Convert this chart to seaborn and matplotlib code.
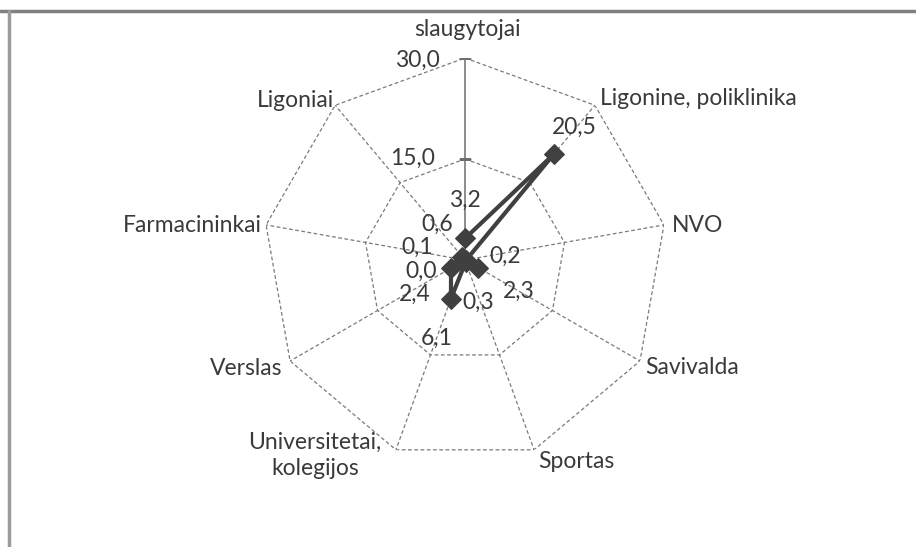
import numpy as np
import matplotlib
matplotlib.use("Agg")
import matplotlib.pyplot as plt
from matplotlib.lines import Line2D
import seaborn as sns

# duomenys
categories = ["slaugytojai", "Ligonine, poliklinika", "NVO", "Savivalda", "Sportas",
              "Universitetai,\nkolegijos", "Verslas", "Farmacininkai", "Ligoniai"]
values = [3.2, 20.5, 0.2, 2.3, 0.3, 6.1, 2.4, 0.1, 0.6]
value_labels = ["3,2", "20,5", "0,2", "2,3", "0,3", "6,1", "2,4", "0,1", "0,6"]
ring_values = [15, 30]
ring_labels = ["15,0", "30,0"]
r_max = 30

sns.set_theme(style="white")
plt.rcParams['font.family'] = ['Lato', 'DejaVu Sans']

TXT = '#3a3a3a'
GRID = '#7a7a7a'
LINE = '#404040'

W, H = 916, 547
fig = plt.figure(figsize=(W / 100, H / 100), dpi=100)
cx, cy, R = 465, 260, 202
ax = fig.add_axes([(cx - R) / W, (H - cy - R) / H, 2 * R / W, 2 * R / H], projection='polar')
ax.set_theta_zero_location('N')
ax.set_theta_direction(-1)
ax.set_ylim(0, r_max)
ax.grid(False)
ax.spines['polar'].set_visible(False)
ax.set_xticks([])
ax.set_yticks([])
ax.set_facecolor('none')

n = len(categories)
theta = np.arange(n) * 2 * np.pi / n
theta_c = np.append(theta, theta[0])

# tinklelis (daugiakampiai + spinduliai)
for r in ring_values:
    ax.plot(theta_c, [r] * (n + 1), color=GRID, lw=0.9, ls=(0, (3, 2)), zorder=1)
for i, t in enumerate(theta):
    if i == 0:
        ax.plot([t, t], [0, r_max], color='#6e6e6e', lw=1.1, zorder=1)
    else:
        ax.plot([t, t], [0, r_max], color=GRID, lw=0.9, ls=(0, (3, 2)), zorder=1)
# vertes asies padalos
ax.plot([0, 0, 0], [0] + ring_values, ls='none', marker='_', markersize=8,
        markeredgewidth=1.0, color='#6e6e6e', zorder=1)

# serija
vals_c = values + values[:1]
sns.lineplot(x=theta_c, y=vals_c, sort=False, ax=ax, color=LINE, lw=3.0,
             marker='D', markersize=10, markeredgecolor=LINE, zorder=3)
ax.set_xlabel('')
ax.set_ylabel('')

fs = 16.5
# asies reiksmes
ax.annotate("0,0", xy=(0, 0), xytext=(-28, -11), textcoords='offset pixels',
            ha='right', va='center', fontsize=fs, color=TXT)
ring_off = [(-30, 1), (-25, -2)]
for r, lab, off in zip(ring_values, ring_labels, ring_off):
    ax.annotate(lab, xy=(0, r), xytext=off, textcoords='offset pixels',
                ha='right', va='center', fontsize=fs, color=TXT)

# kategoriju pavadinimai
cat_style = [((2, 28), 'center'), ((5, 7), 'left'), ((8, -1), 'left'), ((5, -7), 'left'),
             ((4, -12), 'left'), ((-81, -6), 'center'), ((-8, -7), 'right'),
             ((-4, -1), 'right'), ((-1, 5), 'right')]
for t, lab, (off, ha) in zip(theta, categories, cat_style):
    ax.annotate(lab, xy=(t, r_max), xytext=off, textcoords='offset pixels',
                ha=ha, va='center', fontsize=fs, color=TXT, linespacing=1.3,
                annotation_clip=False)

# duomenu zymes
lab_off = [(0, 38), (21, 27), (39, 3), (40, -24), (12, -40), (-14, -40),
           (-36, -26), (-47, 13), (-25, 33)]
for t, v, lab, off in zip(theta, values, value_labels, lab_off):
    ax.annotate(lab, xy=(t, v), xytext=off, textcoords='offset pixels',
                ha='center', va='center', fontsize=fs, color=TXT)

# remelis
fig.add_artist(Line2D([0, 1], [1 - 11 / H, 1 - 11 / H], transform=fig.transFigure,
                      color='#808080', lw=2.5))
fig.add_artist(Line2D([9 / W, 9 / W], [0, 1 - 11 / H], transform=fig.transFigure,
                      color='#9a9a9a', lw=2.5))

fig.savefig("out.png", dpi=100, facecolor='white')
